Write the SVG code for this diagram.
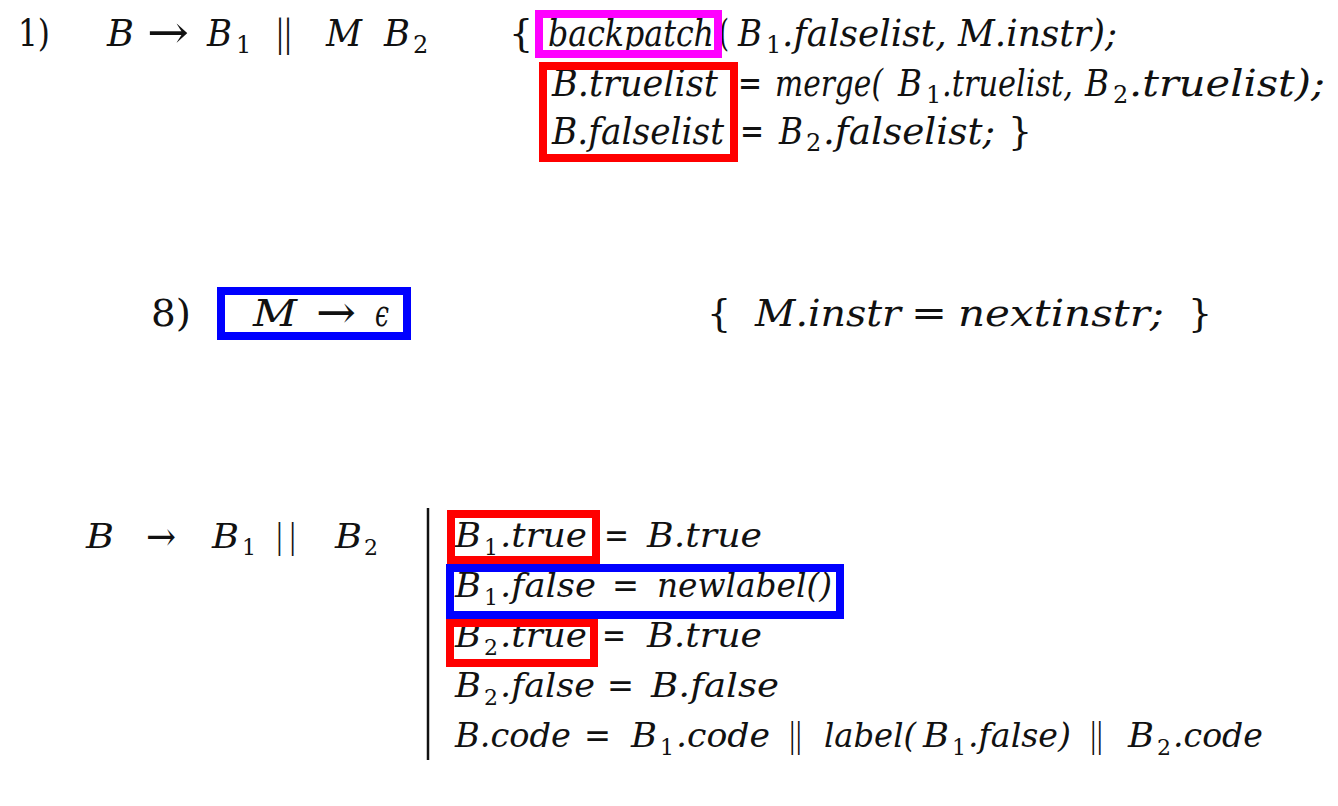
<svg xmlns="http://www.w3.org/2000/svg" width="1338" height="806" viewBox="0 0 1338 806" font-family="DejaVu Serif, Liberation Serif, serif">
<style>
text{font-family:"DejaVu Serif","Liberation Serif",serif;fill:#111}
.i{font-style:italic}
.t{font-size:38px}
.s{font-size:24px}
.b{font-size:34px}
.bs{font-size:22px}
.ar{font-size:46px}
.bar{font-size:40px}
.box{fill:none;stroke-width:8}
.red{stroke:#ff0000}
.blue{stroke:#0000ff}
.mag{stroke:#ff00ff}
</style>
<rect width="1338" height="806" fill="#ffffff"/>
<g id="rule1">
  <text class="t" x="18" y="46" textLength="32" lengthAdjust="spacingAndGlyphs">1)</text>
  <text class="t i" x="107" y="46" textLength="27" lengthAdjust="spacingAndGlyphs">B</text>
  <text class="ar" x="147" y="48" textLength="42" lengthAdjust="spacingAndGlyphs">→</text>
  <text class="t i" x="207" y="46" textLength="25" lengthAdjust="spacingAndGlyphs">B</text>
  <text class="s" x="236" y="53">1</text>
  <text class="t" x="276" y="46" textLength="16" lengthAdjust="spacingAndGlyphs">||</text>
  <text class="t i" x="326" y="46" textLength="36" lengthAdjust="spacingAndGlyphs">M</text>
  <text class="t i" x="384" y="46" textLength="26" lengthAdjust="spacingAndGlyphs">B</text>
  <text class="s" x="413" y="53">2</text>
  <text class="t" x="509" y="46">{</text>
  <text class="t i" x="548" y="46" textLength="166" lengthAdjust="spacingAndGlyphs">backpatch</text>
  <text class="t" x="719" y="46" textLength="10" lengthAdjust="spacingAndGlyphs">(</text>
  <text class="t i" x="738" y="46" textLength="24" lengthAdjust="spacingAndGlyphs">B</text>
  <text class="s" x="766" y="53">1</text>
  <text class="t i" x="782" y="46" textLength="335" lengthAdjust="spacingAndGlyphs">.falselist, M.instr);</text>

  <text class="t i" x="552" y="96" textLength="166" lengthAdjust="spacingAndGlyphs">B.truelist</text>
  <text class="t" x="738" y="96" textLength="24" lengthAdjust="spacingAndGlyphs">=</text>
  <text class="t i" x="775" y="96" textLength="108" lengthAdjust="spacingAndGlyphs">merge(</text>
  <text class="t i" x="898" y="96" textLength="24" lengthAdjust="spacingAndGlyphs">B</text>
  <text class="s" x="926" y="103">1</text>
  <text class="t i" x="942" y="96" textLength="131" lengthAdjust="spacingAndGlyphs">.truelist,</text>
  <text class="t i" x="1085" y="96" textLength="24" lengthAdjust="spacingAndGlyphs">B</text>
  <text class="s" x="1113" y="103">2</text>
  <text class="t i" x="1129" y="96" textLength="196" lengthAdjust="spacingAndGlyphs">.truelist);</text>

  <text class="t i" x="552" y="144" textLength="172" lengthAdjust="spacingAndGlyphs">B.falselist</text>
  <text class="t" x="740" y="144" textLength="24" lengthAdjust="spacingAndGlyphs">=</text>
  <text class="t i" x="779" y="144" textLength="24" lengthAdjust="spacingAndGlyphs">B</text>
  <text class="s" x="806" y="151">2</text>
  <text class="t i" x="823" y="144" textLength="172" lengthAdjust="spacingAndGlyphs">.falselist;</text>
  <text class="t" x="1008" y="144">}</text>

  <rect class="box mag" x="539" y="14" width="179" height="40"/>
  <rect class="box red" x="543" y="66" width="191" height="92"/>
</g>

<g id="rule8">
  <text class="t" x="151" y="326" textLength="40" lengthAdjust="spacingAndGlyphs">8)</text>
  <text class="t i" x="253" y="326" textLength="44" lengthAdjust="spacingAndGlyphs">M</text>
  <text class="ar" x="316" y="328" textLength="40" lengthAdjust="spacingAndGlyphs">→</text>
  <text class="t i" x="375" y="326" textLength="14" lengthAdjust="spacingAndGlyphs">ϵ</text>
  <text class="t" x="707" y="326">{</text>
  <text class="t i" x="755" y="326" textLength="146" lengthAdjust="spacingAndGlyphs">M.instr</text>
  <text class="t" x="911" y="326" textLength="36" lengthAdjust="spacingAndGlyphs">=</text>
  <text class="t i" x="958" y="326" textLength="206" lengthAdjust="spacingAndGlyphs">nextinstr;</text>
  <text class="t" x="1188" y="326">}</text>
  <rect class="box blue" x="221" y="291" width="186" height="45"/>
</g>

<g id="rule-or">
  <text class="b i" x="86" y="548" textLength="28" lengthAdjust="spacingAndGlyphs">B</text>
  <text class="bar" x="146" y="550" textLength="30" lengthAdjust="spacingAndGlyphs">→</text>
  <text class="b i" x="212" y="548" textLength="27" lengthAdjust="spacingAndGlyphs">B</text>
  <text class="bs" x="242" y="555">1</text>
  <text class="b" x="276" y="548" textLength="20" lengthAdjust="spacingAndGlyphs">| |</text>
  <text class="b i" x="335" y="548" textLength="27" lengthAdjust="spacingAndGlyphs">B</text>
  <text class="bs" x="364" y="555">2</text>
</g>

<g id="connectors">
  <line x1="428" y1="508" x2="428" y2="760" stroke="#111" stroke-width="2.5"/>
</g>

<g id="actions">
  <text class="b i" x="455" y="547" textLength="26" lengthAdjust="spacingAndGlyphs">B</text>
  <text class="bs" x="484" y="555">1</text>
  <text class="b i" x="500" y="547" textLength="87" lengthAdjust="spacingAndGlyphs">.true</text>
  <text class="b" x="604" y="547" textLength="25" lengthAdjust="spacingAndGlyphs">=</text>
  <text class="b i" x="647" y="547" textLength="115" lengthAdjust="spacingAndGlyphs">B.true</text>

  <text class="b i" x="455" y="597" textLength="26" lengthAdjust="spacingAndGlyphs">B</text>
  <text class="bs" x="484" y="605">1</text>
  <text class="b i" x="500" y="597" textLength="96" lengthAdjust="spacingAndGlyphs">.false</text>
  <text class="b" x="612" y="597" textLength="27" lengthAdjust="spacingAndGlyphs">=</text>
  <text class="b i" x="657" y="597" textLength="175" lengthAdjust="spacingAndGlyphs">newlabel()</text>

  <text class="b i" x="455" y="647" textLength="26" lengthAdjust="spacingAndGlyphs">B</text>
  <text class="bs" x="484" y="655">2</text>
  <text class="b i" x="500" y="647" textLength="87" lengthAdjust="spacingAndGlyphs">.true</text>
  <text class="b" x="602" y="647" textLength="24" lengthAdjust="spacingAndGlyphs">=</text>
  <text class="b i" x="647" y="647" textLength="115" lengthAdjust="spacingAndGlyphs">B.true</text>

  <text class="b i" x="455" y="697" textLength="26" lengthAdjust="spacingAndGlyphs">B</text>
  <text class="bs" x="484" y="705">2</text>
  <text class="b i" x="500" y="697" textLength="95" lengthAdjust="spacingAndGlyphs">.false</text>
  <text class="b" x="607" y="697" textLength="27" lengthAdjust="spacingAndGlyphs">=</text>
  <text class="b i" x="651" y="697" textLength="128" lengthAdjust="spacingAndGlyphs">B.false</text>

  <text class="b i" x="455" y="747" textLength="116" lengthAdjust="spacingAndGlyphs">B.code</text>
  <text class="b" x="584" y="747" textLength="27" lengthAdjust="spacingAndGlyphs">=</text>
  <text class="b i" x="631" y="747" textLength="26" lengthAdjust="spacingAndGlyphs">B</text>
  <text class="bs" x="660" y="755">1</text>
  <text class="b i" x="676" y="747" textLength="94" lengthAdjust="spacingAndGlyphs">.code</text>
  <text class="b" x="789" y="747" textLength="13" lengthAdjust="spacingAndGlyphs">||</text>
  <text class="b i" x="824" y="747" textLength="92" lengthAdjust="spacingAndGlyphs">label(</text>
  <text class="b i" x="923" y="747" textLength="26" lengthAdjust="spacingAndGlyphs">B</text>
  <text class="bs" x="952" y="755">1</text>
  <text class="b i" x="968" y="747" textLength="103" lengthAdjust="spacingAndGlyphs">.false)</text>
  <text class="b" x="1090" y="747" textLength="13" lengthAdjust="spacingAndGlyphs">||</text>
  <text class="b i" x="1128" y="747" textLength="26" lengthAdjust="spacingAndGlyphs">B</text>
  <text class="bs" x="1157" y="755">2</text>
  <text class="b i" x="1173" y="747" textLength="90" lengthAdjust="spacingAndGlyphs">.code</text>

  <rect class="box red" x="451" y="514" width="145" height="46"/>
  <rect class="box red" x="450" y="623" width="144" height="40"/>
  <rect class="box blue" x="450" y="568" width="390" height="47"/>
</g>
</svg>
